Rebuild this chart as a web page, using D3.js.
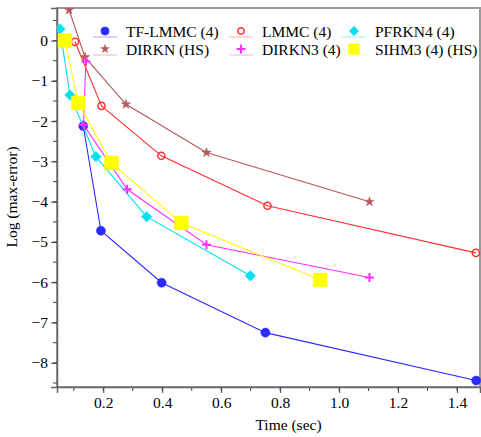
<!DOCTYPE html>
<html><head><meta charset="utf-8">
<script src="https://cdn.jsdelivr.net/npm/d3@7"></script>
<style>body{margin:0;background:#fff}svg{display:block}</style>
</head><body><svg id="c" width="481" height="437"></svg>
<script>
// Data (time in sec, log max-error)
const seriesNames = ["TF-LMMC (4)", "LMMC (4)", "PFRKN4 (4)", "DIRKN (HS)", "DIRKN3 (4)", "SIHM3 (4) (HS)"];
const tfLmmcT = [0.132, 0.192, 0.398, 0.750, 1.465];
const tfLmmcE = [-2.12, -4.72, -6.01, -7.25, -8.44];
const lmmcT = [0.104, 0.194, 0.397, 0.757, 1.464];
const lmmcE = [-0.03, -1.62, -2.86, -4.10, -5.27];
const pfrkn4T = [0.053, 0.087, 0.175, 0.347, 0.699];
const pfrkn4E = [0.29, -1.35, -2.88, -4.37, -5.84];
const dirknT = [0.084, 0.138, 0.277, 0.550, 1.103];
const dirknE = [0.76, -0.41, -1.58, -2.78, -4.00];
const dirkn3T = [0.141, 0.133, 0.281, 0.550, 1.103];
const dirkn3E = [-0.52, -2.09, -3.69, -5.07, -5.88];
const sihm3T = [0.070, 0.115, 0.228, 0.465, 0.936];
const sihm3E = [0.00, -1.55, -3.04, -4.53, -5.94];
const xTicks = [0.2, 0.4, 0.6, 0.8, 1.0, 1.2, 1.4];
const yTicks = [0, -1, -2, -3, -4, -5, -6, -7, -8];

const svg = d3.select("#c");
const L = 57, R = 480, T = 8, B = 387;
const x = d3.scaleLinear().domain([0.043, 1.478]).range([L, R]);
const y = d3.scaleLinear().domain([-8.6, 0.81]).range([B, T]);
const font = "'Liberation Serif', 'Times New Roman', serif";

// frame
svg.append("rect").attr("x", L).attr("y", T).attr("width", R - L).attr("height", B - T)
  .attr("fill", "none").attr("stroke", "#9a9a9a").attr("stroke-width", 2);

// axes
const xMinor = d3.range(0.1, 1.45, 0.1);
const xAx = svg.append("g").attr("transform", `translate(0,${B})`);
xAx.selectAll("line.mn").data(xMinor).join("line")
  .attr("x1", d => x(d)).attr("x2", d => x(d)).attr("y1", 0).attr("y2", 4)
  .attr("stroke", "#444");
xAx.call(d3.axisBottom(x).tickValues(xTicks).tickFormat(d3.format(".1f")).tickSize(6).tickPadding(4))
  .call(g => g.select(".domain").attr("stroke", "#666").attr("stroke-width", 1.5))
  .call(g => g.selectAll(".tick line").attr("stroke", "#444"))
  .call(g => g.selectAll("text").attr("font-family", font).attr("font-size", 15.5).attr("fill", "#000"));

const yMinor = d3.range(-8.5, 0.6, 0.5);
const yAx = svg.append("g").attr("transform", `translate(${L},0)`);
yAx.selectAll("line.mn").data(yMinor).join("line")
  .attr("x1", -4).attr("x2", 0).attr("y1", d => y(d)).attr("y2", d => y(d))
  .attr("stroke", "#444");
yAx.call(d3.axisLeft(y).tickValues(yTicks).tickFormat(d3.format("d")).tickSize(6).tickPadding(3))
  .call(g => g.select(".domain").attr("stroke", "#666").attr("stroke-width", 1.5))
  .call(g => g.selectAll(".tick line").attr("stroke", "#444"))
  .call(g => g.selectAll("text").attr("font-family", font).attr("font-size", 15.5).attr("fill", "#000"));

svg.append("text").attr("x", (L + R) / 2 + 20).attr("y", 430).attr("text-anchor", "middle")
  .attr("font-family", font).attr("font-size", 15.5).text("Time (sec)");
svg.append("text").attr("transform", "translate(17,197) rotate(-90)").attr("text-anchor", "middle")
  .attr("font-family", font).attr("font-size", 15.5).text("Log (max-error)");

// series
const series = [
  {name: seriesNames[3], t: dirknT, e: dirknE, color: "#b35a5a", sym: "star", fill: true, size: 28},
  {name: seriesNames[1], t: lmmcT, e: lmmcE, color: "#ff3030", sym: "circle", fill: false, size: 40},
  {name: seriesNames[0], t: tfLmmcT, e: tfLmmcE, color: "#2a2aff", sym: "circle", fill: true, size: 65},
  {name: seriesNames[2], t: pfrkn4T, e: pfrkn4E, color: "#00e0f0", sym: "diamond", fill: true, size: 55},
  {name: seriesNames[4], t: dirkn3T, e: dirkn3E, color: "#ff30ff", sym: "cross", fill: true, size: 40},
  {name: seriesNames[5], t: sihm3T, e: sihm3E, color: "#ffff00", sym: "square", fill: true, size: 190},
];
const symMap = {circle: d3.symbolCircle, star: d3.symbolStar, diamond: d3.symbolSquare, square: d3.symbolSquare};
const line = d3.line().x(d => x(d[0])).y(d => y(d[1]));

svg.append("clipPath").attr("id", "clip").append("rect").attr("x", L).attr("y", T).attr("width", R - L + 1).attr("height", B - T);
const plot = svg.append("g").attr("clip-path", "url(#clip)");

function drawMarker(g, s, cx, cy) {
  if (s.sym === "cross") {
    g.append("path").attr("d", `M${cx-4.5},${cy}H${cx+4.5}M${cx},${cy-4.5}V${cy+4.5}`)
      .attr("stroke", s.color).attr("stroke-width", 2);
  } else {
    const rot = s.sym === "diamond" ? " rotate(45)" : "";
    g.append("path").attr("transform", `translate(${cx},${cy})${rot}`)
      .attr("d", d3.symbol().type(symMap[s.sym]).size(s.size)())
      .attr("fill", s.fill ? s.color : "none")
      .attr("stroke", s.color).attr("stroke-width", s.fill ? 0.5 : 1.5)
      .attr("stroke-linejoin", "round");
  }
}

series.forEach(s => {
  const pts = s.t.map((t, i) => [t, s.e[i]]);
  plot.append("path").datum(pts).attr("d", line).attr("fill", "none")
    .attr("stroke", s.color).attr("stroke-width", 1.1);
  pts.forEach(p => drawMarker(plot, s, x(p[0]), y(p[1])));
});

// legend: col1 TF-LMMC, DIRKN; col2 LMMC, DIRKN3; col3 PFRKN4, SIHM3
const legendSeries = [seriesNames[0], seriesNames[3], seriesNames[1], seriesNames[4], seriesNames[2], seriesNames[5]];
const legPos = [[105, 31], [105, 49], [241, 31], [241, 49], [354, 31], [354, 49]];
const lg = svg.append("g");
legendSeries.forEach((nm, k) => {
  const s = series.find(d => d.name === nm);
  const [cx, cy] = legPos[k];
  lg.append("line").attr("x1", cx - 12).attr("x2", cx + 12).attr("y1", cy + 6).attr("y2", cy + 6)
    .attr("stroke", s.color).attr("stroke-width", 0.8).attr("opacity", 0.5);
  const small = Object.assign({}, s, {size: s.sym === "square" ? 110 : s.size * 0.8});
  drawMarker(lg, small, cx, cy);
  lg.append("text").attr("x", cx + 21).attr("y", cy + 5.5).attr("font-family", font)
    .attr("font-size", 15.5).text(nm);
});
</script></body></html>
